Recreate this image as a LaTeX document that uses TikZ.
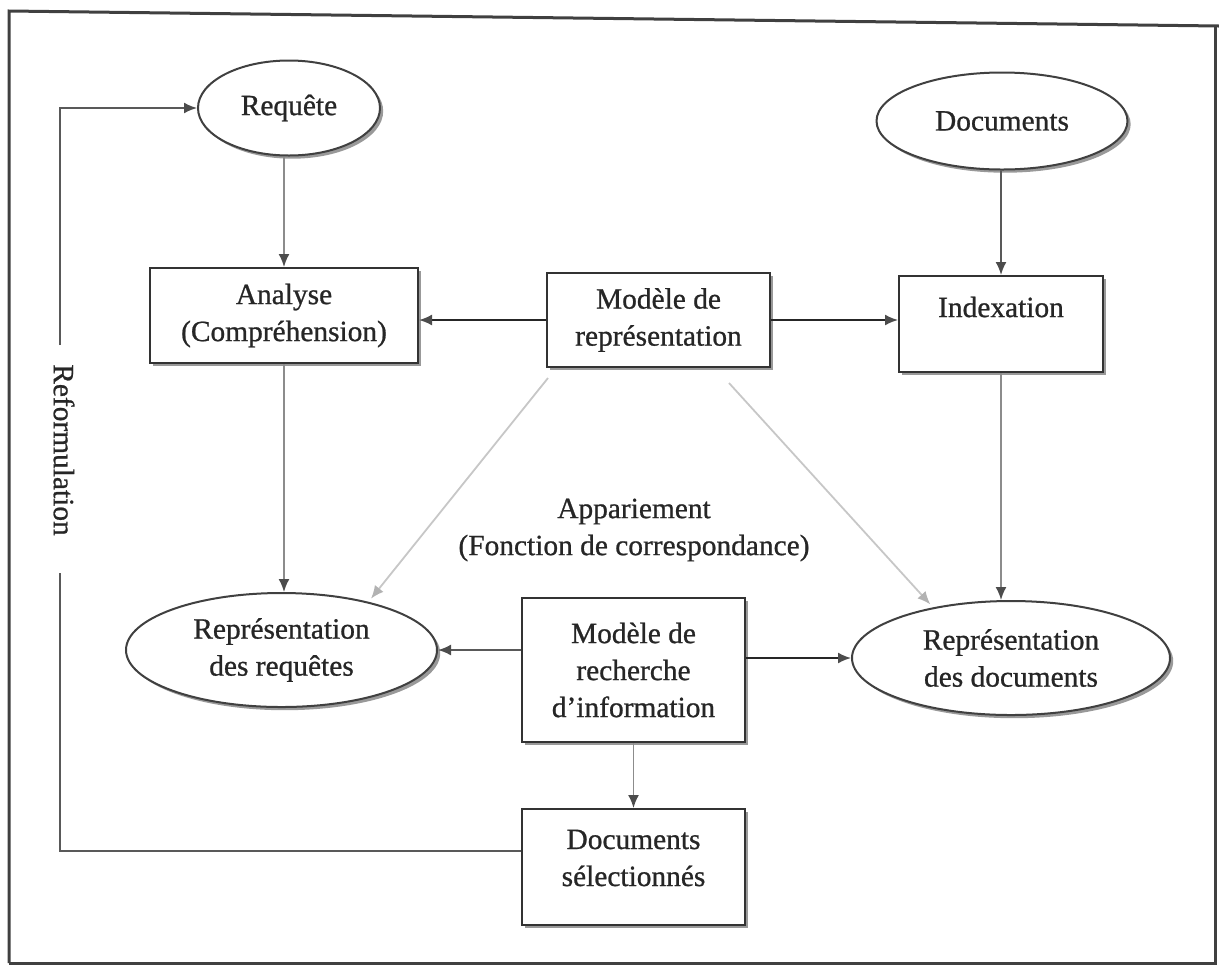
\documentclass[tikz,border=0pt]{standalone}
\usepackage{fontspec}
\setmainfont{Liberation Serif}[FakeBold=0.8]
\usetikzlibrary{shapes.geometric,arrows.meta,shadows,calc}
\newcommand\lblfont{\fontsize{14.7}{18.5}\selectfont}
\begin{document}
\begin{tikzpicture}[x=0.5pt,y=-0.5pt,
  shad/.style={drop shadow={shadow xshift=1.6pt,shadow yshift=-1.6pt,fill=black!40,opacity=1}},
  box/.style={draw=black!80, line width=1pt, fill=white, shad, align=center, inner sep=0pt, font=\lblfont, text=black!85},
  ell/.style={ellipse, draw=black!75, line width=1pt, fill=white, shad, align=center, inner sep=0pt, font=\lblfont, text=black!85},
  txt/.style={align=center, inner sep=0pt, font=\lblfont, text=black!85},
  arr/.style={-{Latex[length=6.5pt,width=5.5pt,color=black!70]}, line width=0.9pt},
  dk/.style={arr, draw=black!85},
  md/.style={arr, draw=black!65},
  lt/.style={arr, draw=black!45},
  diag/.style={-{Latex[length=6.5pt,width=5.5pt,color=black!30]}, line width=0.9pt, draw=black!22},
  frame/.style={draw=black!75, line width=1.5pt}
]
\useasboundingbox (0,0) rectangle (1219,965);
% frame
\draw[frame] (9,963) -- (9,11) -- (1219,26);
\draw[frame] (1215,26) -- (1215,963) -- (9,963);

% nodes
\node[ell, minimum width=91pt, minimum height=47.5pt] (req) at (289,108) {Requête};
\node[ell, minimum width=125.5pt, minimum height=48.5pt] (docs) at (1002,121) {Documents};
\node[box, minimum width=134pt, minimum height=47.5pt] (ana) at (284,315.5) {Analyse\\(Compréhension)};
\node[box, minimum width=111.5pt, minimum height=47pt] (mrep) at (658.5,320) {Modèle de\\représentation};
\node[box, minimum width=102pt, minimum height=48pt] (idx) at (1001,324) {};
\node[txt] (idxt) at ($(idx.center)+(0,-17)$) {Indexation};
\node[ell, minimum width=155.5pt, minimum height=57pt] (rreq) at (281.5,650) {Représentation\\des requêtes};
\node[ell, minimum width=159pt, minimum height=57pt] (rdoc) at (1011,658) {Représentation\\des documents};
\node[box, minimum width=111.5pt, minimum height=72pt] (mrech) at (633.5,670) {Modèle de\\recherche\\d’information};
\node[box, minimum width=111.5pt, minimum height=58pt] (dsel) at (633.5,867) {};
\node[txt] (dselt) at ($(dsel.center)+(0,-9)$) {Documents\\sélectionnés};
\node[txt] (app) at (634,530) {Appariement\\(Fonction de correspondance)};
\node[txt, rotate=-90] (refo) at (64,450) {Reformulation};

% connectors
\draw[lt] (ana.north |- req.south) -- (ana.north);
\draw[lt] (ana.south) -- (ana.south |- rreq.north);
\draw[dk] (mrep.west) -- (mrep.west -| ana.east);
\draw[dk] (mrep.east) -- (mrep.east -| idx.west);
\draw[md] (idx.north |- docs.south) -- (idx.north);
\draw[lt] (idx.south) -- (idx.south |- rdoc.north);
\draw[diag, shorten >=2pt] ($(mrep.south west)+(2,10)$) -- (rreq.29);
\draw[diag, shorten >=2pt] ($(mrep.south)+(70.5,15)$) -- (rdoc.147);
\draw[md] (mrech.west |- rreq.east) -- (rreq.east);
\draw[dk] (mrech.east |- rdoc.west) -- (rdoc.west);
\draw[lt] (mrech.south) -- (dsel.north);

% feedback loop
\coordinate (fbc) at (60,851);
\coordinate (fblo) at (60,573);
\coordinate (fbhi) at (60,345);
\draw[md, -] (dsel.west |- fbc) -- (fbc) -- (fblo);
\draw[md] (fbhi) |- (req.west);
\end{tikzpicture}
\end{document}
